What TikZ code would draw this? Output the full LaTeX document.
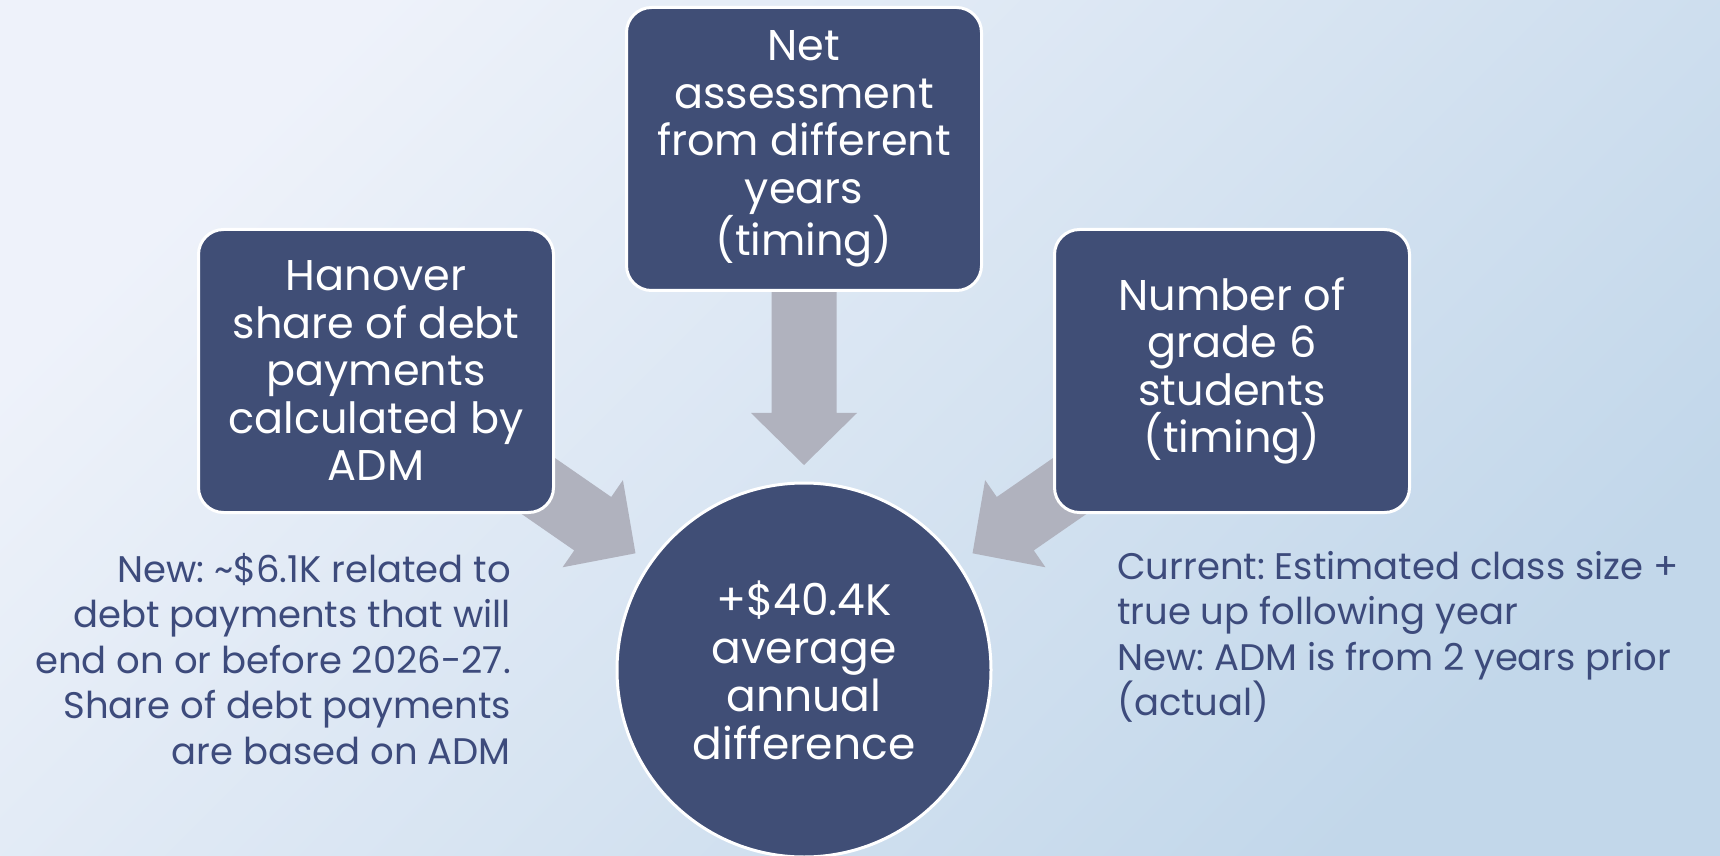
\documentclass[tikz,border=0pt]{standalone}
\usepackage{fontspec}
\setmainfont{Poppins}
\frenchspacing
\usetikzlibrary{calc}

\definecolor{boxnavy}{HTML}{404E76}
\definecolor{arrowgray}{HTML}{B0B2BE}
\definecolor{notenavy}{HTML}{3D4B7C}
\definecolor{bglight}{HTML}{EEF2FA}
\definecolor{bgblue}{HTML}{C2D7EA}

\tikzset{
    factor/.style={draw=white, line width=3pt, fill=boxnavy, rounded corners=25pt,
        minimum width=355pt, minimum height=283pt, inner sep=0pt, text=white,
        align=center, font=\fontsize{43}{47.5}\selectfont},
    result/.style={circle, draw=white, line width=3pt, fill=boxnavy,
        minimum size=374pt, inner sep=0pt, text=white, align=center,
        font=\fontsize{44}{48}\selectfont},
    note/.style={inner sep=0pt, text=notenavy, font=\fontsize{37}{45.5}\selectfont},
    push/.pic={
        \fill[arrowgray] (0, 0) -- (-52, 53) -- (-52, 32.5) -- (-175, 32.5)
            -- (-175, -32.5) -- (-52, -32.5) -- (-52, -53) -- cycle;
    }
}

\begin{document}
\begin{tikzpicture}[x=1pt, y=1pt]
    \useasboundingbox (0, 0) rectangle (1720, 855);
    \shade[top color=bglight, bottom color=bgblue, shading angle=45] (0, 0) rectangle (1720, 855);

    % the sum in the middle
    \node[result] at (804, 185)(diff){+\$40.4K\\average\\annual\\difference};

    % arrows pointing at the middle
    \pic[rotate=-34.7] at ([shift={(145.3:205)}]diff.center) {push};
    \pic[rotate=-90] at ([shift={(90:205)}]diff.center) {push};
    \pic[rotate=-145.3] at ([shift={(34.7:205)}]diff.center) {push};

    % the three causes
    \node[factor] at (376, 484)(debt){Hanover\\share of debt\\payments\\calculated by\\ADM};
    \node[factor] at (804, 706)(assess){Net\\assessment\\from different\\years\\(timing)};
    \node[factor] at (1232, 484)(grade){Number of\\grade 6\\students\\(timing)};

    \node[note, align=right, anchor=east] at (511, 196)(debtnote){New: \textasciitilde\$6.1K related to\\debt payments that will\\end on or before 2026-27.\\Share of debt payments\\are based on ADM};
    \node[note, align=left, anchor=west] at (1117, 218)(gradenote){Current: Estimated class size +\\true up following year\\New: ADM is from 2 years prior\\(actual)};
\end{tikzpicture}
\end{document}
